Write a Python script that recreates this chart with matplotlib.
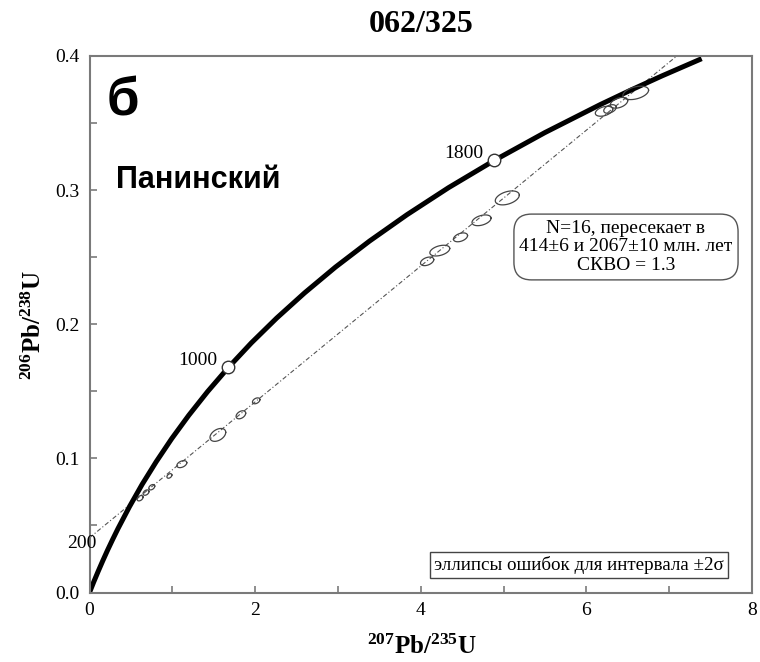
"""Concordia diagram for sample 062/325 (Panino massif).

Draws the concordia curve, the discordia through the two intercepts,
2-sigma error ellipses and the annotation boxes.
"""
import numpy as np
import matplotlib
matplotlib.use("Agg")
import matplotlib.pyplot as plt
from matplotlib.ticker import MultipleLocator, FormatStrFormatter

plt.rcParams['font.family'] = ['Liberation Serif', 'DejaVu Serif']
plt.rcParams['mathtext.fontset'] = 'custom'
plt.rcParams['mathtext.default'] = 'regular'

# Concordia curve (207Pb/235U, 206Pb/238U)
concordia_x = [0.0, 0.0505, 0.1035, 0.1592, 0.2177, 0.2792, 0.3437, 0.4828,
               0.6363, 0.8056, 0.9925, 1.1987, 1.4263, 1.6774, 1.9545,
               2.2603, 2.5977, 2.9700, 3.3810, 3.8344, 4.3348, 4.8869,
               5.4962, 6.1685, 6.5304, 6.9105, 7.3920]
concordia_y = [0.0, 0.0078, 0.0156, 0.0235, 0.0315, 0.0395, 0.0476, 0.0640,
               0.0807, 0.0975, 0.1147, 0.1321, 0.1498, 0.1678, 0.1861,
               0.2046, 0.2234, 0.2426, 0.2620, 0.2817, 0.3018, 0.3221,
               0.3428, 0.3638, 0.3744, 0.3851, 0.3980]

# age marks on the concordia (Ma)
mark_ages = ['200', '1000', '1800']
mark_x = [0.2177, 1.6774, 4.8869]
mark_y = [0.0315, 0.1678, 0.3221]
mark_circle = [False, True, True]

# discordia intercepts: 414 and 2067 Ma
intercept_x = [0.5034, 6.6576]
intercept_y = [0.0663, 0.3780]

# analyses: centre, 2-sigma half widths, error correlation
ell_x = [0.611, 0.683, 0.752, 0.965, 1.115, 1.550, 1.828, 2.013,
         4.077, 4.230, 4.480, 4.734, 5.045, 6.213, 6.285, 6.394, 6.596]
ell_y = [0.0703, 0.0745, 0.0785, 0.0869, 0.0957, 0.1175, 0.1325, 0.1429,
         0.2469, 0.2549, 0.2648, 0.2775, 0.2942, 0.3588, 0.3605, 0.3651, 0.3725]
ell_sx = [0.036, 0.036, 0.036, 0.030, 0.060, 0.095, 0.058, 0.045,
          0.080, 0.120, 0.085, 0.115, 0.145, 0.105, 0.075, 0.105, 0.155]
ell_sy = [0.0020, 0.0020, 0.0020, 0.0017, 0.0026, 0.0048, 0.0030, 0.0022,
          0.0032, 0.0040, 0.0033, 0.0040, 0.0052, 0.0037, 0.0032, 0.0040, 0.0050]
ell_rho = 0.4

GRAY = '#7a7a7a'


def error_ellipse(ax, x0, y0, sx, sy, rho):
    """Outline of a correlated error ellipse."""
    t = np.linspace(0, 2 * np.pi, 80)
    ex = x0 + sx * np.cos(t)
    ey = y0 + sy * (rho * np.cos(t) + np.sqrt(1 - rho ** 2) * np.sin(t))
    ax.plot(ex, ey, color='#444444', linewidth=0.9, zorder=3)


fig = plt.figure(figsize=(7.6, 6.62), dpi=100)
ax = fig.add_axes([89.5 / 760, 1 - 592.5 / 662, 662.5 / 760, 536.5 / 662])

# discordia
ax.axline((intercept_x[0], intercept_y[0]), (intercept_x[1], intercept_y[1]),
          color='#555555', linewidth=0.8, dashes=(4, 2, 1, 2), zorder=1)

# concordia
ax.plot(concordia_x, concordia_y, color='black', linewidth=3.6,
        solid_capstyle='butt', zorder=2)

for x0, y0, sx, sy in zip(ell_x, ell_y, ell_sx, ell_sy):
    error_ellipse(ax, x0, y0, sx, sy, ell_rho)

for age, mx, my, circ in zip(mark_ages, mark_x, mark_y, mark_circle):
    if circ:
        ax.plot(mx, my, 'o', markersize=9, markerfacecolor='white',
                markeredgecolor='#333333', markeredgewidth=1.0, zorder=4)
    ax.annotate(age, (mx, my), xytext=(-8, 5), textcoords='offset points',
                ha='right', va='center', fontsize=14, annotation_clip=False,
                zorder=5)

ax.set_xlim(0, 8)
ax.set_ylim(0, 0.4)
ax.xaxis.set_major_locator(MultipleLocator(2))
ax.xaxis.set_minor_locator(MultipleLocator(1))
ax.yaxis.set_major_locator(MultipleLocator(0.1))
ax.yaxis.set_minor_locator(MultipleLocator(0.05))
ax.yaxis.set_major_formatter(FormatStrFormatter('%.1f'))
ax.tick_params(which='both', direction='in', color=GRAY, width=1.2,
               labelsize=14, pad=7)
ax.tick_params(which='major', length=5)
ax.tick_params(which='minor', length=5)
for sp in ax.spines.values():
    sp.set_color(GRAY)
    sp.set_linewidth(1.5)

ax.text(0.026, 0.890, 'б', transform=ax.transAxes, fontsize=38,
        fontweight='bold', family='Liberation Sans', va='baseline')
ax.text(0.040, 0.754, 'Панинский', transform=ax.transAxes, fontsize=22,
        fontweight='bold', family='Liberation Sans', va='baseline')

ax.text(0.8098, 0.644, 'N=16, пересекает в\n414±6 и 2067±10 млн. лет\nСКВО = 1.3',
        transform=ax.transAxes, fontsize=14, ha='center', va='center',
        linespacing=1.15,
        bbox=dict(boxstyle='round,pad=0.28,rounding_size=0.9',
                  facecolor='white', edgecolor='#555555', linewidth=1.0))
ax.text(0.7389, 0.0513, 'эллипсы ошибок для интервала ±2σ',
        transform=ax.transAxes, fontsize=13.7, ha='center', va='center',
        bbox=dict(boxstyle='square,pad=0.2', facecolor='white',
                  edgecolor='#444444', linewidth=1.0))

fig.text(421 / 760, 1 - 24 / 662, '062/325', fontsize=23, fontweight='bold',
         ha='center', va='center')
fig.text(421.7 / 760, 1 - 647 / 662, '$^{207}$Pb/$^{235}$U', fontsize=18,
         fontweight='bold', ha='center', va='center')
fig.text(34 / 760, 1 - 325 / 662, '$^{206}$Pb/$^{238}$U', fontsize=18,
         fontweight='bold', ha='center', va='center', rotation=90)

fig.savefig('out.png', dpi=100)
